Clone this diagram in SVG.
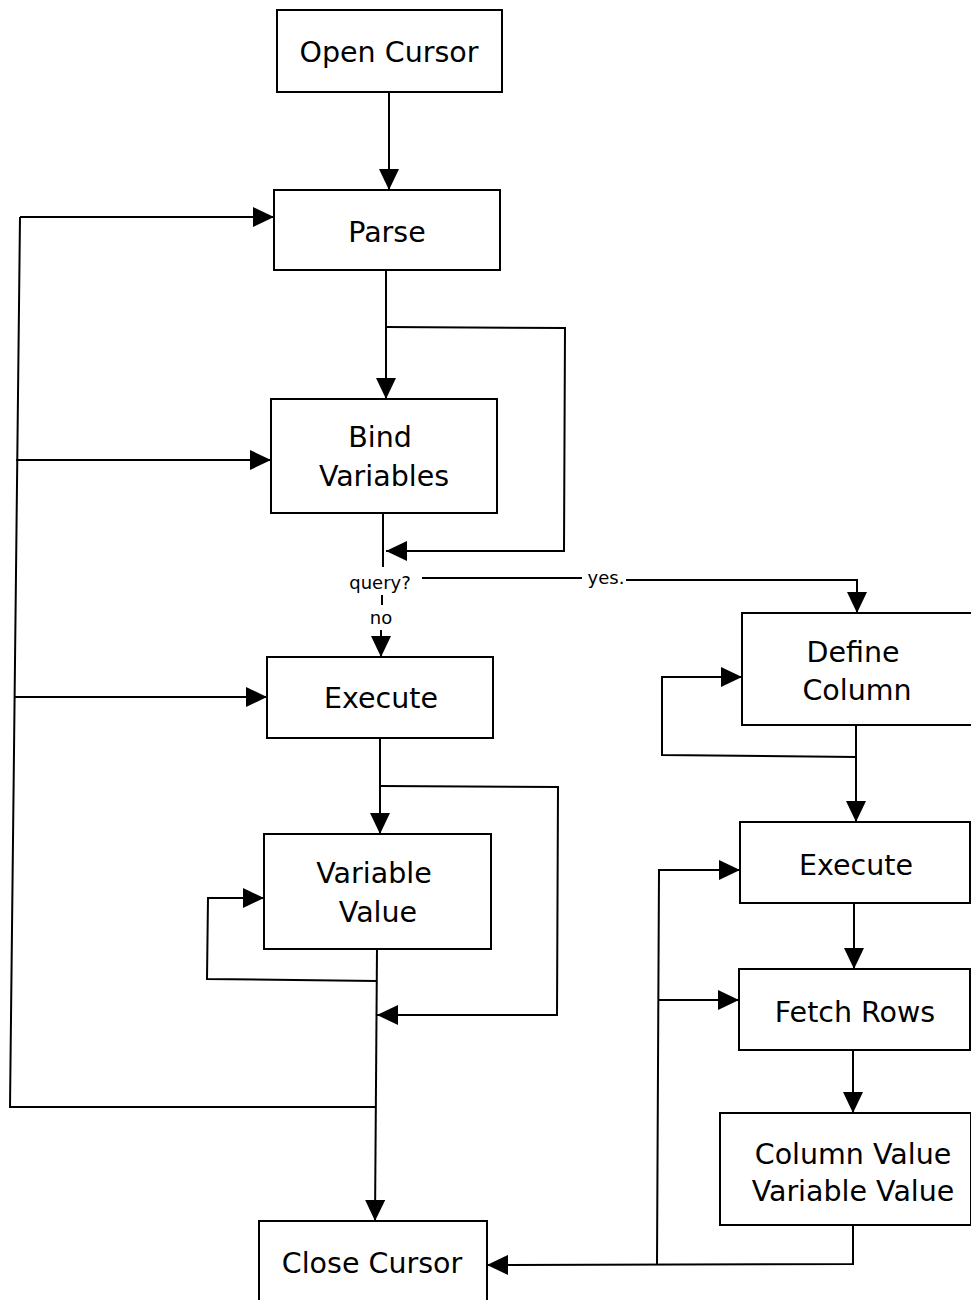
<svg xmlns="http://www.w3.org/2000/svg" width="971" height="1300" viewBox="0 0 971 1300">
<defs>
<marker id="arr" markerUnits="userSpaceOnUse" markerWidth="21" markerHeight="20" refX="21" refY="10" orient="auto">
<path d="M0,0 L21,10 L0,20 z" fill="#000"/>
</marker>
<style>
.box{fill:#fff;stroke:#000;stroke-width:2}
.t{font-family:"DejaVu Sans",Verdana,sans-serif;font-size:28.5px;fill:#000;text-anchor:middle}
.s{font-family:"DejaVu Sans",Verdana,sans-serif;font-size:18px;fill:#000;text-anchor:middle}
.c{fill:none;stroke:#000;stroke-width:2}
.a{fill:none;stroke:#000;stroke-width:2;marker-end:url(#arr)}
</style>
</defs>
<rect width="971" height="1300" fill="#fff"/>
<g id="connectors">
<path class="a" d="M389,92 L389,190"/>
<path class="a" d="M20,217 L274,217"/>
<path class="c" d="M20,217 L10,1107 L375,1107"/>
<path class="a" d="M16,460 L271,460"/>
<path class="a" d="M14,697 L267,697"/>
<path class="a" d="M386,270 L386,399"/>
<path class="a" d="M386,327 L565,328 L564,551 L386,551"/>
<path class="c" d="M383,513 L383,567"/>
<path class="c" d="M382,595 L382,605"/>
<path class="a" d="M381,630 L381,657"/>
<path class="c" d="M422,578 L582,578"/>
<path class="a" d="M626,580 L857,580 L857,613"/>
<path class="a" d="M856,725 L856,757 L662,755 L662,677 L742,677"/>
<path class="a" d="M856,757 L856,822"/>
<path class="a" d="M854,903 L854,969"/>
<path class="a" d="M853,1050 L853,1113"/>
<path class="a" d="M853,1225 L853,1264 L487,1265"/>
<path class="a" d="M657,1264 L659,870 L740,870"/>
<path class="a" d="M659,1000 L739,1000"/>
<path class="a" d="M380,738 L380,834"/>
<path class="a" d="M380,786 L558,787 L557,1015 L377,1015"/>
<path class="a" d="M377,949 L375,1221"/>
<path class="a" d="M377,981 L207,979 L208,898 L264,898"/>
</g>
<g id="open-cursor"><rect class="box" x="277" y="10" width="225" height="82"/><text class="t" x="389" y="62">Open Cursor</text></g>
<g id="parse"><rect class="box" x="274" y="190" width="226" height="80"/><text class="t" x="387" y="242">Parse</text></g>
<g id="bind-variables"><rect class="box" x="271" y="399" width="226" height="114"/><text class="t" x="380" y="447">Bind</text><text class="t" x="384" y="486">Variables</text></g>
<g id="query-labels"><text class="s" x="380" y="589">query?</text><text class="s" x="606" y="584">yes.</text><text class="s" x="381" y="624">no</text></g>
<g id="execute-left"><rect class="box" x="267" y="657" width="226" height="81"/><text class="t" x="381" y="708">Execute</text></g>
<g id="variable-value"><rect class="box" x="264" y="834" width="227" height="115"/><text class="t" x="374" y="883">Variable</text><text class="t" x="378" y="922">Value</text></g>
<g id="close-cursor"><rect class="box" x="259" y="1221" width="228" height="90"/><text class="t" x="372" y="1273">Close Cursor</text></g>
<g id="define-column"><rect class="box" x="742" y="613" width="240" height="112"/><text class="t" x="853" y="662">Define</text><text class="t" x="857" y="700">Column</text></g>
<g id="execute-right"><rect class="box" x="740" y="822" width="230" height="81"/><text class="t" x="856" y="875">Execute</text></g>
<g id="fetch-rows"><rect class="box" x="739" y="969" width="231" height="81"/><text class="t" x="855" y="1022">Fetch Rows</text></g>
<g id="column-value"><rect class="box" x="720" y="1113" width="251" height="112"/><text class="t" x="853" y="1164">Column Value</text><text class="t" x="853" y="1201">Variable Value</text></g>
</svg>
